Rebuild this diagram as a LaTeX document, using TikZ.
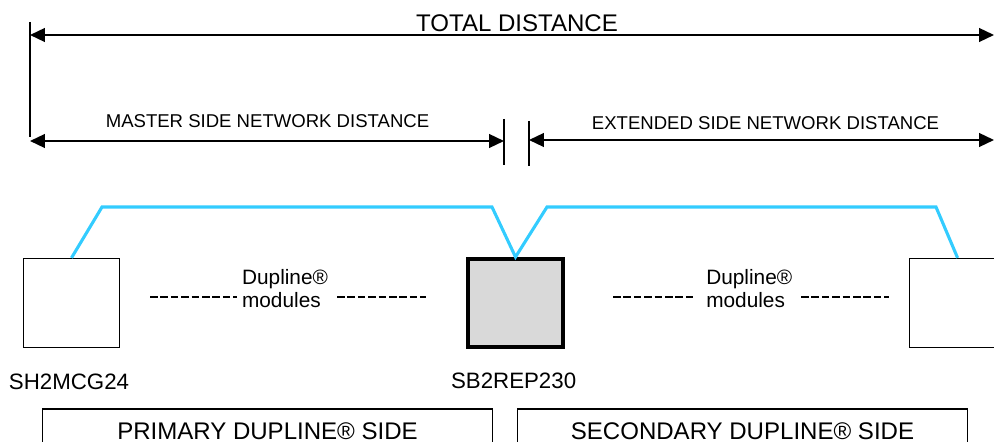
\documentclass[tikz,border=0pt]{standalone}
\usepackage{fontspec}
\setmainfont{Liberation Sans}
\usetikzlibrary{arrows.meta,positioning}
\definecolor{busblue}{RGB}{51,204,255}
\definecolor{repgray}{RGB}{217,217,217}

\begin{document}
\begin{tikzpicture}[>={Triangle[length=0.37cm,width=0.34cm]},
    dist/.style={line width=1.4pt},
    distlabel/.style={anchor=base, inner sep=0pt, font=\fontsize{13.2}{15}\selectfont},
    module/.style={draw, line width=1pt, minimum width=2.4cm, minimum height=2.22cm},
    repeater/.style={draw, line width=2.85pt, fill=repgray, minimum width=2.375cm, minimum height=2.2cm},
    devlabel/.style={anchor=base, inner sep=0pt, font=\fontsize{15.85}{18}\selectfont},
    modtext/.style={anchor=west, align=left, inner sep=2pt, font=\fontsize{14.8}{16.4}\selectfont},
    side/.style={draw, line width=1.4pt, anchor=north, minimum width=11.25cm, minimum height=1.1cm,
        text height=12.2pt, text depth=0pt, font=\fontsize{17.1}{20}\selectfont},
    bus/.style={draw=busblue, line width=2.2pt},
    dline/.style={dash pattern=on 0.19cm off 0.07cm, line width=1.2pt}]
    \useasboundingbox (0,0) rectangle (24.85,11.025);

    % distance marks
    \draw[dist] (0.75,10.475) coordinate (lt) -- (0.75,7.6) coordinate (lb);
    \draw[dist] (12.6,8.05) coordinate (mt) -- (12.6,6.9) coordinate (mb);
    \draw[dist] (13.225,8.0) coordinate (et) -- (13.225,6.875) coordinate (eb);
    \coordinate (tr) at (24.85,10.15);
    \coordinate (er) at (24.85,7.525);

    \draw[dist,<->] (lt |- tr) -- (tr);
    \draw[dist,<->] (0.75,7.5) -- (12.6,7.5);
    \draw[dist,<->] (13.225,7.525) -- (er);
    \node[distlabel, font=\fontsize{17.1}{20}\selectfont] (total) at (12.925,10.23) {TOTAL DISTANCE};
    \node[distlabel] (master) at (6.6875,7.825) {MASTER SIDE NETWORK DISTANCE};
    \node[distlabel] (extended) at (19.1375,7.775) {EXTENDED SIDE NETWORK DISTANCE};

    % devices
    \node[module] (sh) at (1.7875,3.45) {};
    \node[repeater] (rep) at (12.8875,3.45) {};
    \node[module] (ext) at (23.94,3.45) {};
    \node[devlabel] (shname) at (1.725,1.275) {SH2MCG24};
    \node[devlabel] (repname) at (12.84,1.3) {SB2REP230};

    % bus line
    \draw[bus] (sh.north) -- (2.55,5.85) -- (12.3,5.85) -- (rep.north)
        -- (13.675,5.85) -- (23.4,5.85) -- (ext.north);

    % modules in between
    \node[modtext] (mod1) at (5.975,3.82) {Dupline®\\modules};
    \node[modtext] (mod2) at (17.58,3.82) {Dupline®\\modules};
    \draw[dline] (3.75,3.6) -- (5.925,3.6);
    \draw[dline] (8.425,3.6) -- (10.65,3.6);
    \draw[dline] (15.325,3.6) -- (17.4,3.6);
    \draw[dline] (20.025,3.6) -- (22.225,3.6);

    % sides
    \node[side] (primary) at (6.6875,0.825) {PRIMARY DUPLINE® SIDE};
    \node[side] (secondary) at (18.5625,0.825) {SECONDARY DUPLINE® SIDE};
\end{tikzpicture}
\end{document}
